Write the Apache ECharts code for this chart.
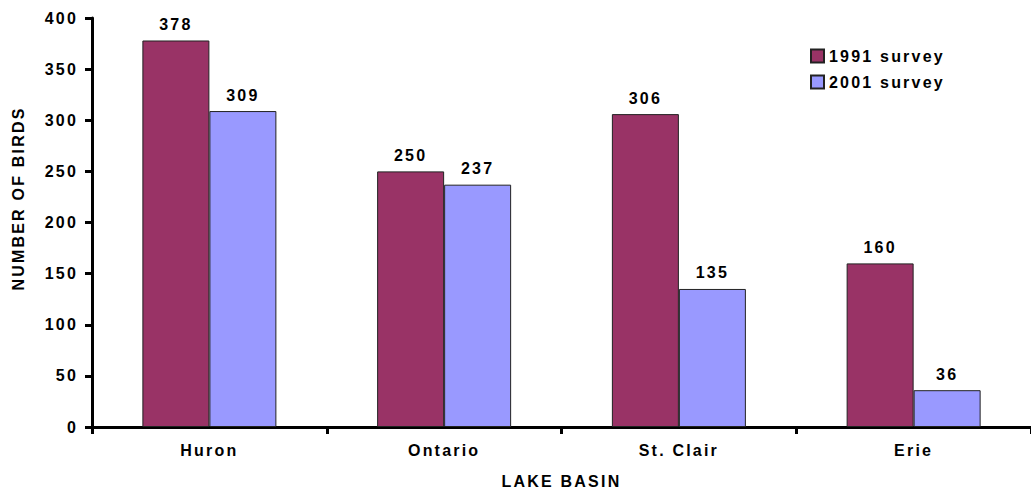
<!DOCTYPE html>
<html>
<head>
<meta charset="utf-8">
<script src="https://cdn.jsdelivr.net/npm/echarts@6/dist/echarts.min.js"></script>
<style>
  html, body { margin: 0; padding: 0; background: #ffffff; }
  #chart { width: 1031px; height: 494px; }
  #chart text { letter-spacing: 2.2px; }
</style>
</head>
<body>
<div id="chart"></div>
<script>
// Lake basins surveyed
const basins = ['Huron', 'Ontario', 'St. Clair', 'Erie'];
// Bird counts per survey year
const survey1991 = [378, 250, 306, 160];
const survey2001 = [309, 237, 135, 36];
const seriesNames = ['1991 survey', '2001 survey'];
// Value axis range
const yMin = 0;
const yMax = 400;
const yStep = 50;

const font = '"Liberation Sans", Arial, Helvetica, sans-serif';
const fs = 16;
const chart = echarts.init(document.getElementById('chart'), null, { renderer: 'svg' });

const labelStyle = {
  show: true,
  position: 'top',
  distance: 8,
  color: '#000',
  fontFamily: font,
  fontWeight: 'bold',
  fontSize: fs
};

chart.setOption({
  backgroundColor: '#ffffff',
  animation: false,
  textStyle: { fontFamily: font },
  legend: {
    orient: 'vertical',
    left: 805,
    top: 43,
    itemWidth: 13,
    itemHeight: 13,
    itemGap: 10,
    icon: 'rect',
    textStyle: { color: '#000', fontFamily: font, fontWeight: 'bold', fontSize: fs, lineHeight: 16 },
    data: seriesNames
  },
  grid: { left: 92, right: -5, top: 18, bottom: 67 },
  xAxis: {
    type: 'category',
    data: basins,
    name: 'LAKE BASIN',
    nameLocation: 'middle',
    nameGap: 46,
    nameTextStyle: { color: '#000', fontFamily: font, fontWeight: 'bold', fontSize: fs },
    axisLine: { lineStyle: { color: '#000', width: 3 } },
    axisTick: { show: true, length: 7, lineStyle: { color: '#000', width: 3 } },
    axisLabel: { color: '#000', fontFamily: font, fontWeight: 'bold', fontSize: fs, margin: 15 },
    splitLine: { show: false }
  },
  yAxis: {
    type: 'value',
    min: yMin,
    max: yMax,
    interval: yStep,
    name: 'NUMBER OF BIRDS',
    nameLocation: 'middle',
    nameGap: 66,
    nameTextStyle: { color: '#000', fontFamily: font, fontWeight: 'bold', fontSize: fs, padding: [0, 0, 0, 48] },
    axisLine: { show: true, lineStyle: { color: '#000', width: 3 } },
    axisTick: { show: true, length: 7, lineStyle: { color: '#000', width: 3 } },
    axisLabel: { color: '#000', fontFamily: font, fontWeight: 'bold', fontSize: fs, margin: 14 },
    splitLine: { show: false }
  },
  series: [
    {
      name: seriesNames[0],
      type: 'bar',
      data: survey1991,
      barWidth: 67,
      barGap: '0%',
      itemStyle: { color: '#993366', borderColor: '#222', borderWidth: 1 },
      label: labelStyle
    },
    {
      name: seriesNames[1],
      type: 'bar',
      data: survey2001,
      barWidth: 67,
      barGap: '0%',
      itemStyle: { color: '#9999FF', borderColor: '#222', borderWidth: 1 },
      label: labelStyle
    }
  ]
});
</script>
</body>
</html>
